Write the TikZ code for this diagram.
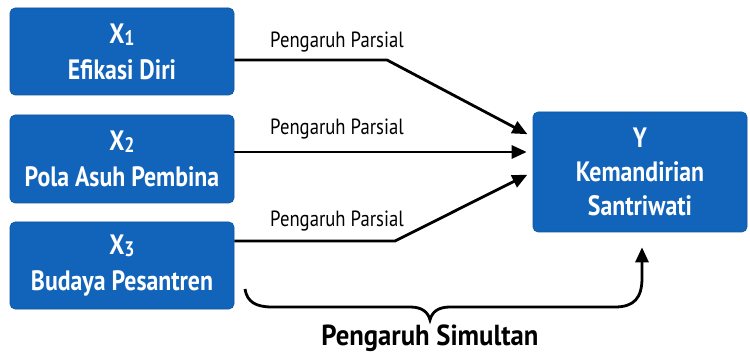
\documentclass[tikz,border=0pt]{standalone}
\usepackage{fontspec}
\setmainfont{PT Sans}[FakeStretch=0.85]
\newfontfamily\simfont{PT Sans}[FakeStretch=0.92]
\usetikzlibrary{arrows.meta,calc}
\definecolor{boxblue}{RGB}{18,100,186}
\newcommand{\varsub}[1]{\raisebox{-2pt}{\fontsize{21}{21}\selectfont #1}}
\begin{document}
\begin{tikzpicture}[x=1pt,y=-1pt,
  varbox/.style={draw=boxblue!85!black, line width=0.6pt, fill=boxblue, rounded corners=5pt,
    text=white, font=\bfseries\fontsize{28}{36}\selectfont, align=center, inner sep=0pt},
  conn/.style={line width=2.8pt, -{Triangle[length=15pt,width=13pt]}, shorten >=6pt},
  lbl/.style={font=\fontsize{22}{24}\selectfont, anchor=base},
  simlbl/.style={font=\simfont\bfseries\fontsize{29}{30}\selectfont, anchor=base}]
\useasboundingbox (0,0) rectangle (750,358);
\node[varbox, minimum width=224pt, minimum height=87pt] (x1) at (122,51.5) {X\varsub{1}\\Efikasi Diri};
\node[varbox, minimum width=224pt, minimum height=88pt] (x2) at (122,159) {X\varsub{2}\\Pola Asuh Pembina};
\node[varbox, minimum width=224pt, minimum height=87pt] (x3) at (122,265.5) {X\varsub{3}\\Budaya Pesantren};
\node[varbox, minimum width=214pt, minimum height=120pt, font=\bfseries\fontsize{28}{34}\selectfont] (y) at (640,172) {Y\\Kemandirian\\Santriwati};
% helper coordinates
\coordinate (h1) at (0,60);
\coordinate (h2) at (0,152);
\coordinate (h3) at (0,241);
\coordinate (t1) at (0,137);
\coordinate (t3) at (0,172);
\coordinate (k1) at (387,60);
\coordinate (k3) at (395,241);
\draw[conn] (x1.east |- h1) -- (k1) -- (y.west |- t1);
\draw[conn] (x2.east |- h2) -- (y.west |- h2);
\draw[conn] (x3.east |- h3) -- (k3) -- (y.west |- t3);
\node[lbl] (l1) at (337,48) {Pengaruh Parsial};
\node[lbl] (l2) at (337,135) {Pengaruh Parsial};
\node[lbl] (l3) at (337,227) {Pengaruh Parsial};
% brace
\coordinate (b0) at (245,289);
\coordinate (bt) at (430,320);
\draw[line width=2.8pt, -{Triangle[length=15pt,width=13pt]}, shorten >=15pt]
  (b0) .. controls (247,302) and (256,307) .. (272,307) -- (410,307)
  .. controls (422,307) and (428,312) .. (bt)
  .. controls (432,312) and (438,307) .. (450,307) -- (615,307)
  .. controls (634,307) and (642,298) .. (642,278) -- (y.south -| 642,0);
\node[simlbl] (sim) at (430,345) {Pengaruh Simultan};
\end{tikzpicture}
\end{document}
